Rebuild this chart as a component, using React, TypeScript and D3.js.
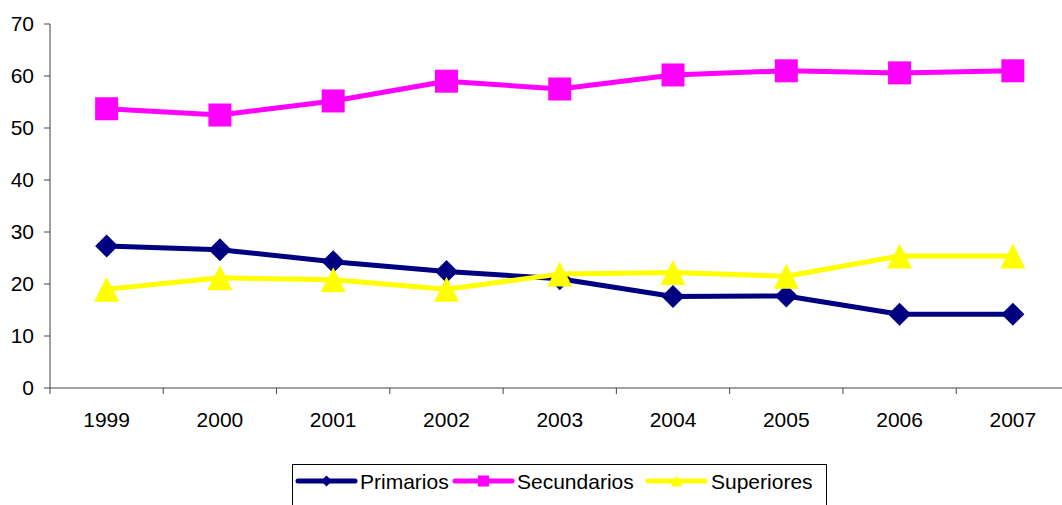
import React from "react";
import * as d3 from "d3";

const years = ["1999", "2000", "2001", "2002", "2003", "2004", "2005", "2006", "2007"];
const primarios = [27.3, 26.6, 24.3, 22.4, 21.0, 17.6, 17.7, 14.2, 14.2];
const secundarios = [53.7, 52.5, 55.2, 59.0, 57.5, 60.2, 61.0, 60.6, 61.0];
const superiores = [19.0, 21.2, 20.8, 19.0, 21.9, 22.2, 21.5, 25.4, 25.4];
const yTicks = [0, 10, 20, 30, 40, 50, 60, 70];

const seriesNames = ["Primarios", "Secundarios", "Superiores"];
const seriesColors = ["#000080", "#FF00FF", "#FFFF00"];
const seriesShapes = ["diamond", "square", "triangle"];
const seriesValues = [primarios, secundarios, superiores];

const FONT = "'Liberation Sans', Arial, sans-serif";

function marker(shape: string, cx: number, cy: number, s: number, color: string, key?: any) {
  const h = s / 2;
  if (shape === "diamond") {
    return <path key={key} d={`M${cx},${cy - h}L${cx + h},${cy}L${cx},${cy + h}L${cx - h},${cy}Z`} fill={color} />;
  }
  if (shape === "square") {
    return <rect key={key} x={cx - h} y={cy - h} width={s} height={s} fill={color} />;
  }
  return <path key={key} d={`M${cx},${cy - h}L${cx + h},${cy + h}L${cx - h},${cy + h}Z`} fill={color} />;
}

export default function App() {
  const W = 1062, H = 505;
  const x = d3.scaleBand<string>().domain(years).range([50, 1069.5]).padding(0);
  const y = d3.scaleLinear().domain([0, 70]).range([388, 24]);
  const cx = (d: string) => (x(d) as number) + x.bandwidth() / 2;
  const line = d3.line<number>().x((_, i) => cx(years[i])).y((v) => y(v));

  const legendItems = [
    { lx: 298, tx: 360 },
    { lx: 455, tx: 517 },
    { lx: 648, tx: 711 },
  ];

  return (
    <svg width={W} height={H} style={{ position: "absolute", left: 0, top: 0 }} fontFamily={FONT}>
      <rect x={0} y={0} width={W} height={H} fill="#fff" />
      <line x1={50} x2={50} y1={y(70)} y2={y(0)} stroke="#444" strokeWidth={1} />
      {yTicks.map((t) => (
        <g key={t}>
          <line x1={44} x2={50} y1={y(t)} y2={y(t)} stroke="#444" />
          <text x={34} y={y(t)} dy="0.35em" textAnchor="end" fontSize={21} fill="#000">{t}</text>
        </g>
      ))}
      <line x1={50} x2={1069} y1={y(0)} y2={y(0)} stroke="#444" />
      {years.map((yr) => (
        <g key={yr}>
          <line x1={x(yr) as number} x2={x(yr) as number} y1={y(0)} y2={y(0) + 6} stroke="#444" />
          <text x={cx(yr)} y={427} textAnchor="middle" fontSize={21} fill="#000">{yr}</text>
        </g>
      ))}
      {seriesValues.map((vals, si) => (
        <g key={si}>
          <path d={line(vals) || ""} fill="none" stroke={seriesColors[si]} strokeWidth={5} strokeLinejoin="round" />
          {vals.map((v, i) =>
            marker(seriesShapes[si], cx(years[i]), y(v), seriesShapes[si] === "triangle" ? 25 : 23, seriesColors[si], i)
          )}
        </g>
      ))}
      <rect x={292.5} y={464.5} width={534} height={45} fill="#fff" stroke="#000" strokeWidth={1} />
      {legendItems.map((it, si) => (
        <g key={si}>
          <line x1={it.lx} x2={it.lx + 57} y1={481} y2={481} stroke={seriesColors[si]} strokeWidth={5} strokeLinecap="round" />
          {marker(seriesShapes[si], it.lx + 28.5, 481, 11, seriesColors[si])}
          <text x={it.tx} y={489} fontSize={21} fill="#000">{seriesNames[si]}</text>
        </g>
      ))}
    </svg>
  );
}
